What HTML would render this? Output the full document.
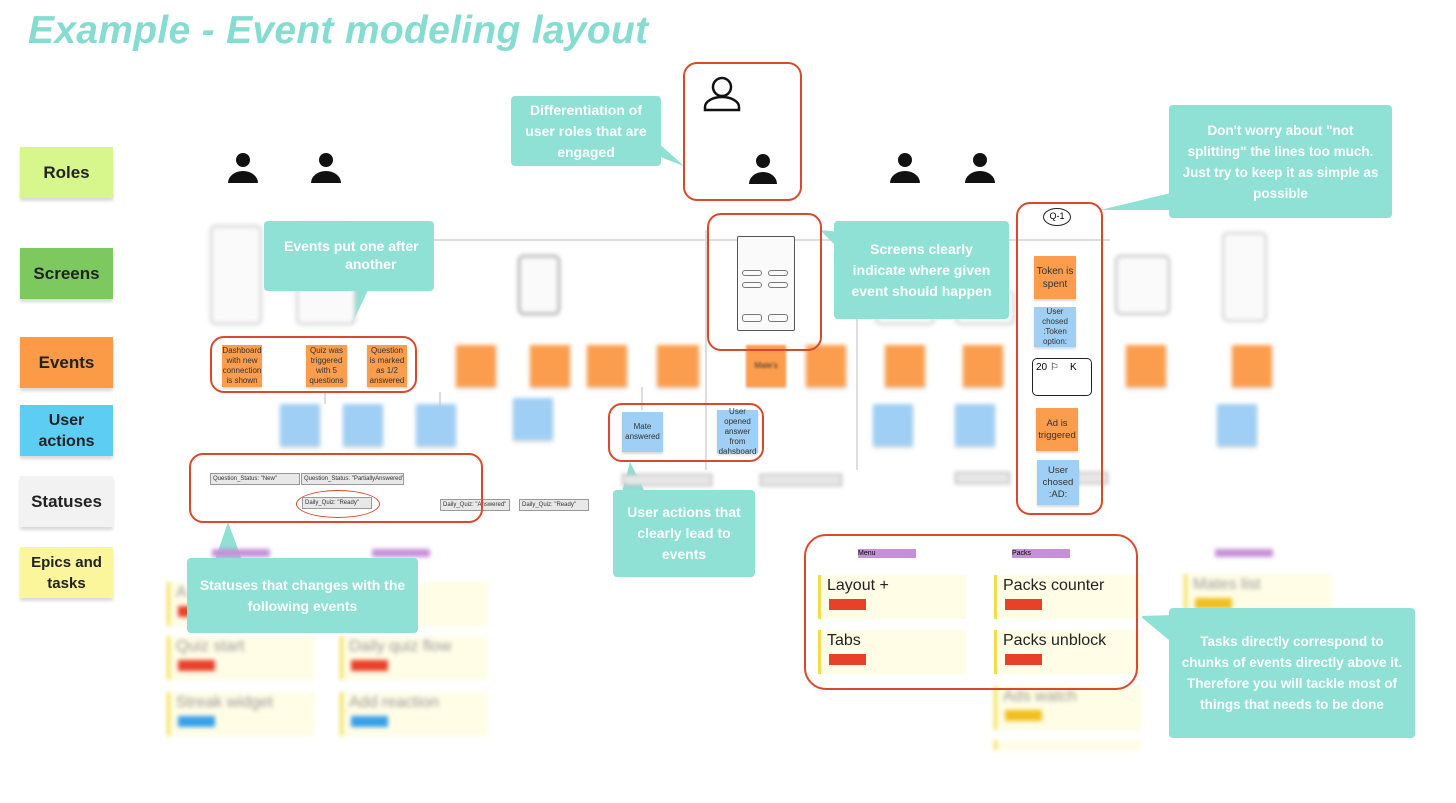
<!DOCTYPE html>
<html><head><meta charset="utf-8"><style>
body{margin:0;width:1456px;height:803px;background:#fff;position:relative;overflow:hidden;font-family:"Liberation Sans","DejaVu Sans",sans-serif}
.a{position:absolute;box-sizing:border-box}
.title{left:28px;top:9px;font-size:39px;font-weight:bold;font-style:italic;color:#86dcd0;letter-spacing:0.3px}
.leg{width:93px;height:51px;display:flex;align-items:center;justify-content:center;text-align:center;font-size:17px;font-weight:bold;color:#222;box-shadow:0 3px 3px rgba(0,0,0,.15);left:20px;line-height:21px}
.call{background:#8fe0d5;color:#fff;font-weight:bold;font-size:14px;text-align:center;display:flex;align-items:center;justify-content:center;border-radius:4px;line-height:21px;padding:4px 10px}
.red{border:2px solid #d94a2c;border-radius:14px}
.ev{background:#fb9d4c;font-size:8px;color:#333;text-align:center;display:flex;align-items:center;justify-content:center;line-height:10px;box-shadow:0 2px 2px rgba(0,0,0,.15)}
.ua{background:#9fcff4;font-size:8px;color:#333;text-align:center;display:flex;align-items:center;justify-content:center;line-height:10px;box-shadow:0 2px 2px rgba(0,0,0,.15)}
.bl{filter:blur(2px)}
.st{background:#e8e8e8;border:1px solid #999;font-size:6px;color:#333;height:12px;line-height:10px;padding-left:2px;white-space:nowrap;overflow:hidden}
.task{background:#fffde6;border-left:3px solid #f2dd4a;width:148px;height:44px;font-size:16px;color:#222;padding:2px 6px}
.task i{position:absolute;left:8px;top:24px;width:37px;height:11px;background:#e8412a}
.sk{border:2px solid #ccc;border-radius:6px;background:#fafafa}
</style></head><body>
<div class="a title">Example - Event modeling layout</div>

<div class="a leg" style="top:147px;background:#d7f68c">Roles</div>
<div class="a leg" style="top:248px;background:#7dc95f">Screens</div>
<div class="a leg" style="top:337px;background:#fb9a47">Events</div>
<div class="a leg" style="top:405px;background:#5dcdf4;font-size:16px">User<br>actions</div>
<div class="a leg" style="top:476px;background:#f2f2f2">Statuses</div>
<div class="a leg" style="top:547px;background:#fbf59c;font-size:15px">Epics and<br>tasks</div>

<svg class="a" style="left:0;top:0" width="1456" height="803">
<g fill="#111">
<circle cx="243" cy="160" r="7"/><path d="M228 183 a15 12 0 0 1 30 0z"/>
<circle cx="326" cy="160" r="7"/><path d="M311 183 a15 12 0 0 1 30 0z"/>
<circle cx="905" cy="160" r="7"/><path d="M890 183 a15 12 0 0 1 30 0z"/>
<circle cx="980" cy="160" r="7"/><path d="M965 183 a15 12 0 0 1 30 0z"/>
<circle cx="763" cy="161" r="7"/><path d="M749 184 a14 12 0 0 1 28 0z"/>
</g>
<g fill="none" stroke="#111" stroke-width="2.5"><circle cx="722" cy="87" r="9"/><path d="M705 110 v-3 a17 10 0 0 1 34 0 v3z"/></g>
<g stroke="#ddd" stroke-width="2" fill="none"><path d="M420 240 H1110"/><path d="M857 240 V470"/><path d="M706 230 V470"/><path d="M325 392 V404"/><path d="M440 392 V420"/><path d="M642 387 V410"/></g>
<g fill="#8fe0d5">
<path d="M655 140 L684 166 L655 155z"/>
<path d="M340 290 L352 324 L368 290z"/>
<path d="M840 232 L820 230 L840 250z"/>
<path d="M1175 192 L1100 210 L1175 210z"/>
<path d="M622 492 L630 462 L645 492z"/>
<path d="M215 560 L228 522 L242 560z"/>
<path d="M1175 615 L1140 616 L1175 645z"/>
</g>
</svg>

<div class="a sk bl" style="left:210px;top:225px;width:52px;height:100px"></div>
<div class="a sk bl" style="left:296px;top:225px;width:60px;height:100px"></div>
<div class="a sk bl" style="left:518px;top:255px;width:42px;height:60px;border-color:#999"></div>
<div class="a sk bl" style="left:875px;top:290px;width:60px;height:35px"></div>
<div class="a sk bl" style="left:955px;top:290px;width:60px;height:35px"></div>
<div class="a sk bl" style="left:1115px;top:255px;width:55px;height:60px;border-color:#bbb"></div>
<div class="a sk bl" style="left:1222px;top:232px;width:45px;height:90px"></div>
<div class="a sk" style="left:737px;top:236px;width:58px;height:95px;border-color:#555;border-width:1px;border-radius:2px"></div>
<div class="a" style="left:742px;top:270px;width:20px;height:6px;border:1px solid #777;border-radius:3px"></div>
<div class="a" style="left:768px;top:270px;width:20px;height:6px;border:1px solid #777;border-radius:3px"></div>
<div class="a" style="left:742px;top:282px;width:20px;height:6px;border:1px solid #777;border-radius:3px"></div>
<div class="a" style="left:768px;top:282px;width:20px;height:6px;border:1px solid #777;border-radius:3px"></div>
<div class="a" style="left:742px;top:314px;width:20px;height:8px;border:1px solid #777;border-radius:3px"></div>
<div class="a" style="left:768px;top:314px;width:20px;height:8px;border:1px solid #777;border-radius:3px"></div>

<div class="a ev" style="left:222px;top:345px;width:40px;height:42px">Dashboard with new connection is shown</div>
<div class="a ev" style="left:306px;top:345px;width:41px;height:42px">Quiz was triggered with 5 questions</div>
<div class="a ev" style="left:367px;top:345px;width:40px;height:42px">Question is marked as 1/2 answered</div>
<div class="a ev bl" style="left:456px;top:345px;width:40px;height:42px"></div>
<div class="a ev bl" style="left:530px;top:345px;width:40px;height:42px"></div>
<div class="a ev bl" style="left:587px;top:345px;width:40px;height:42px"></div>
<div class="a ev bl" style="left:657px;top:345px;width:42px;height:42px"></div>
<div class="a ev" style="left:746px;top:345px;width:40px;height:42px;filter:blur(1px)">Mate's</div>
<div class="a ev bl" style="left:806px;top:345px;width:40px;height:42px"></div>
<div class="a ev bl" style="left:885px;top:345px;width:40px;height:42px"></div>
<div class="a ev bl" style="left:963px;top:345px;width:40px;height:42px"></div>
<div class="a ev bl" style="left:1126px;top:345px;width:40px;height:42px"></div>
<div class="a ev bl" style="left:1232px;top:345px;width:40px;height:42px"></div>

<div class="a ua bl" style="left:280px;top:404px;width:40px;height:42px"></div>
<div class="a ua bl" style="left:343px;top:404px;width:40px;height:42px"></div>
<div class="a ua bl" style="left:416px;top:404px;width:40px;height:42px"></div>
<div class="a ua bl" style="left:513px;top:398px;width:40px;height:42px"></div>
<div class="a ua" style="left:622px;top:412px;width:41px;height:40px">Mate answered</div>
<div class="a ua" style="left:717px;top:410px;width:41px;height:43px">User opened answer from dahsboard</div>
<div class="a ua bl" style="left:873px;top:404px;width:40px;height:42px"></div>
<div class="a ua bl" style="left:955px;top:404px;width:40px;height:42px"></div>
<div class="a ua bl" style="left:1217px;top:404px;width:40px;height:42px"></div>

<div class="a st" style="left:210px;top:473px;width:90px">Question_Status: "New"</div>
<div class="a st" style="left:301px;top:473px;width:103px">Question_Status: "PartiallyAnswered"</div>
<div class="a st" style="left:302px;top:497px;width:70px">Daily_Quiz: "Ready"</div>
<div class="a" style="left:296px;top:490px;width:84px;height:28px;border:1px solid #d94a2c;border-radius:50%"></div>
<div class="a st" style="left:440px;top:499px;width:70px">Daily_Quiz: "Answered"</div>
<div class="a st" style="left:519px;top:499px;width:70px">Daily_Quiz: "Ready"</div>
<div class="a st bl" style="left:622px;top:474px;width:90px"></div>
<div class="a st bl" style="left:760px;top:474px;width:82px"></div>
<div class="a st bl" style="left:955px;top:472px;width:55px"></div>
<div class="a st bl" style="left:1050px;top:472px;width:58px"></div>

<div class="a" style="left:1043px;top:208px;width:28px;height:18px;border:1.5px solid #222;border-radius:50%;font-size:9px;text-align:center;line-height:15px">Q-1</div>
<div class="a ev" style="left:1034px;top:256px;width:42px;height:43px;font-size:10px;line-height:13px">Token is spent</div>
<div class="a ua" style="left:1034px;top:307px;width:42px;height:40px">User chosed :Token option:</div>
<div class="a" style="left:1032px;top:358px;width:60px;height:38px;border:1.5px solid #222;border-radius:5px;font-size:10px;padding:3px">20 ⚐ &nbsp;&nbsp;&nbsp;K</div>
<div class="a ev" style="left:1036px;top:408px;width:42px;height:43px;font-size:9.5px;line-height:12px">Ad is triggered</div>
<div class="a ua" style="left:1037px;top:460px;width:42px;height:45px;font-size:9.5px;line-height:12px">User chosed :AD:</div>

<div class="a bl" style="left:212px;top:549px;width:58px;height:8px;background:#c690d8"></div>
<div class="a bl" style="left:372px;top:549px;width:58px;height:8px;background:#c690d8"></div>
<div class="a" style="left:858px;top:549px;width:58px;height:9px;background:#c690d8;font-size:7px;line-height:9px">Menu</div>
<div class="a" style="left:1012px;top:549px;width:58px;height:9px;background:#c690d8;font-size:7px;line-height:9px">Packs</div>
<div class="a bl" style="left:1215px;top:549px;width:58px;height:8px;background:#c690d8"></div>

<div class="a task bl" style="left:167px;top:582px;color:#999">A<i></i></div>
<div class="a task bl" style="left:167px;top:636px;color:#999">Quiz start<i></i></div>
<div class="a task bl" style="left:167px;top:692px;color:#999">Streak widget<i style="background:#3aa0e8"></i></div>
<div class="a task bl" style="left:340px;top:582px;color:#999"><i></i></div>
<div class="a task bl" style="left:340px;top:636px;color:#999">Daily quiz flow<i></i></div>
<div class="a task bl" style="left:340px;top:692px;color:#999">Add reaction<i style="background:#3aa0e8"></i></div>
<div class="a task bl" style="left:994px;top:686px;color:#999">Ads watch<i style="background:#f0c020"></i></div>
<div class="a task bl" style="left:994px;top:740px;height:10px"></div>
<div class="a task bl" style="left:1184px;top:574px;color:#999">Mates list<i style="background:#f0c020"></i></div>

<div class="a task" style="left:818px;top:575px">Layout +<i></i></div>
<div class="a task" style="left:818px;top:630px">Tabs<i></i></div>
<div class="a task" style="left:994px;top:575px">Packs counter<i></i></div>
<div class="a task" style="left:994px;top:630px">Packs unblock<i></i></div>

<div class="a red" style="left:683px;top:62px;width:119px;height:139px"></div>
<div class="a red" style="left:210px;top:336px;width:207px;height:57px"></div>
<div class="a red" style="left:189px;top:453px;width:294px;height:70px"></div>
<div class="a red" style="left:608px;top:403px;width:156px;height:59px"></div>
<div class="a red" style="left:707px;top:213px;width:115px;height:138px"></div>
<div class="a red" style="left:1016px;top:202px;width:87px;height:313px"></div>
<div class="a red" style="left:804px;top:534px;width:334px;height:156px;border-radius:22px"></div>

<div class="a call" style="left:511px;top:96px;width:150px;height:70px">Differentiation of user roles that are engaged</div>
<div class="a call" style="left:264px;top:221px;width:170px;height:70px;align-items:flex-start;justify-content:flex-start;padding:16px 0 0 20px;line-height:18px;white-space:nowrap;overflow:hidden">Events put one after<br>&nbsp;&nbsp;&nbsp;&nbsp;&nbsp;&nbsp;&nbsp;&nbsp;&nbsp;&nbsp;another</div>
<div class="a call" style="left:834px;top:221px;width:175px;height:98px">Screens clearly indicate where given event should happen</div>
<div class="a call" style="left:1169px;top:105px;width:223px;height:113px;font-size:13.5px">Don't worry about "not splitting" the lines too much. Just try to keep it as simple as possible</div>
<div class="a call" style="left:613px;top:490px;width:142px;height:87px">User actions that clearly lead to events</div>
<div class="a call" style="left:187px;top:558px;width:231px;height:75px">Statuses that changes with the following events</div>
<div class="a call" style="left:1169px;top:608px;width:246px;height:130px;font-size:13.5px">Tasks directly correspond to chunks of events directly above it. Therefore you will tackle most of things that needs to be done</div>
</body></html>
